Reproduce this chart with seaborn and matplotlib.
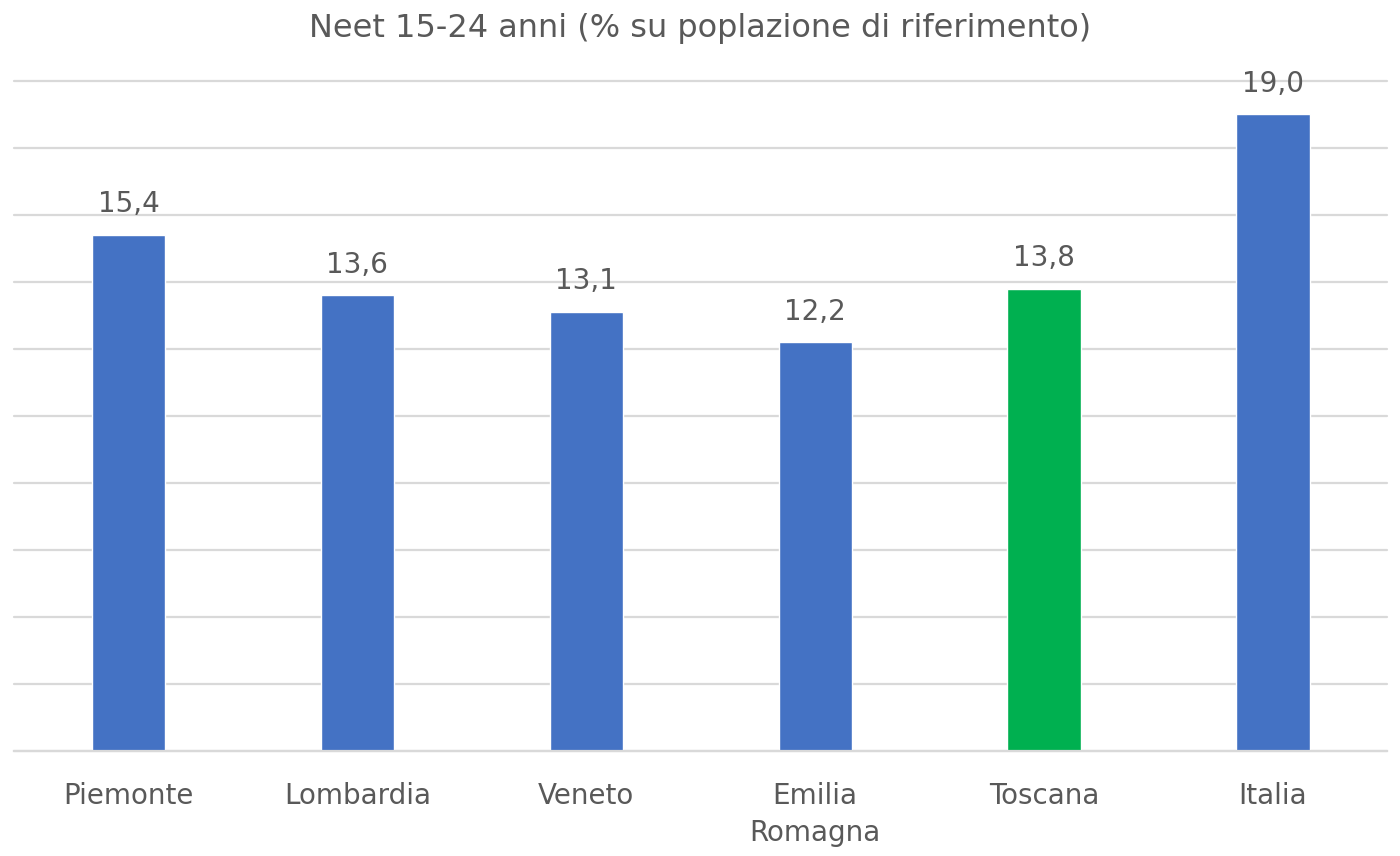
import matplotlib
matplotlib.use("Agg")
import matplotlib.pyplot as plt
import seaborn as sns
import pandas as pd

# data
regioni = ["Piemonte", "Lombardia", "Veneto", "Emilia\nRomagna", "Toscana", "Italia"]
neet = [15.4, 13.6, 13.1, 12.2, 13.8, 19.0]
colori = ["#4472C4", "#4472C4", "#4472C4", "#4472C4", "#00B050", "#4472C4"]

df = pd.DataFrame({"regione": regioni, "neet": neet})

sns.set_style("white")
plt.rcParams["font.family"] = ["DejaVu Sans"]
testo = "#595959"

fig = plt.figure(figsize=(14, 8.56), dpi=100)
ax = fig.add_axes([0.01, 0.1227, 0.981, 0.7827])

sns.barplot(data=df, x="regione", y="neet", hue="regione",
            palette=dict(zip(regioni, colori)), legend=False,
            width=0.32, saturation=1, ax=ax)

for c in ax.containers:
    ax.bar_label(c, labels=[f"{v:.1f}".replace(".", ",") for v in c.datavalues],
                 padding=12, fontsize=20, color=testo)

ax.set_ylim(0, 20)
ax.set_xlim(-0.5, 5.5)
ax.set_yticks(range(0, 21, 2))
ax.set_yticklabels([])
ax.yaxis.grid(True, color="#D9D9D9", linewidth=1.6)
for g in ax.get_ygridlines():
    g.set_clip_on(False)
ax.set_axisbelow(True)
ax.tick_params(axis="x", length=0, pad=22, labelsize=20, labelcolor=testo)
for t in ax.get_xticklabels():
    t.set_linespacing(1.45)
ax.tick_params(axis="y", length=0)
ax.set_xlabel("")
ax.set_ylabel("")
for s in ["left", "right", "top"]:
    ax.spines[s].set_visible(False)
ax.spines["bottom"].set_color("#D9D9D9")
ax.spines["bottom"].set_linewidth(1.6)

fig.suptitle("Neet 15-24 anni (% su poplazione di riferimento)",
             y=0.985, fontsize=23, color=testo)

fig.savefig("out.png", dpi=100)
